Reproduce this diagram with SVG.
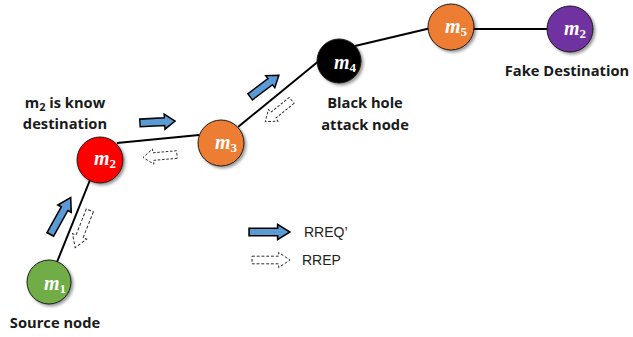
<svg xmlns="http://www.w3.org/2000/svg" width="633" height="337" viewBox="0 0 633 337">
<style>
  .lbl { font-family: "Open Sans", "Liberation Sans", sans-serif; font-weight: 700; font-size: 14.7px; fill: #1a1a1a; text-anchor: middle; }
  .nl { font-family: "Liberation Serif", "DejaVu Serif", serif; font-weight: 700; font-style: italic; font-size: 20px; fill: #ffffff; }
  .nl tspan.s { font-size: 13px; font-style: normal; }
  .node { stroke: #1a1a1a; stroke-width: 1; filter: url(#sh); }
  .edge { stroke: #000; stroke-width: 2; fill: none; }
  .req { fill: #5B9BD5; stroke: #000; stroke-width: 1.6; stroke-linejoin: miter; }
  .rep { fill: #fff; stroke: #222; stroke-width: 1; stroke-dasharray: 3 2; }
  .leg { font-family: "Liberation Sans", Arial, sans-serif; font-size: 14px; fill: #222; }
</style>
<defs>
  <filter id="sh" x="-30%" y="-30%" width="170%" height="170%">
    <feGaussianBlur in="SourceAlpha" stdDeviation="1.5"/>
    <feOffset dx="1.5" dy="2" result="o"/>
    <feComponentTransfer><feFuncA type="linear" slope="0.4"/></feComponentTransfer>
    <feMerge><feMergeNode/><feMergeNode in="SourceGraphic"/></feMerge>
  </filter>
  <path id="arr" d="M-20,-4 L8,-4 L8,-8 L20,0 L8,8 L8,4 L-20,4 Z"/>
</defs>

<g id="connectors">
  <line class="edge" x1="57" y1="262" x2="90" y2="180"/>
  <line class="edge" x1="117" y1="143" x2="199" y2="135"/>
  <line class="edge" x1="238" y1="127" x2="320" y2="60"/>
  <line class="edge" x1="355" y1="46" x2="431" y2="28"/>
  <line class="edge" x1="473" y1="29" x2="548" y2="29"/>
</g>

<g id="messages">
  <use href="#arr" class="req" transform="translate(60.5,216) rotate(-61) scale(1.05,0.95)"/>
  <use href="#arr" class="rep" transform="translate(82.5,229) rotate(111.5) scale(1.0,0.95)"/>
  <use href="#arr" class="req" transform="translate(157.5,122) rotate(-3) scale(0.88,0.95)"/>
  <use href="#arr" class="rep" transform="translate(160,156) rotate(175) scale(0.85,0.95)"/>
  <use href="#arr" class="req" transform="translate(264.5,86) rotate(-37) scale(0.9,0.95)"/>
  <use href="#arr" class="rep" transform="translate(278.5,111) rotate(141) scale(0.85,0.95)"/>
</g>

<g id="m1">
  <circle class="node" cx="49" cy="282" r="22" fill="#70AD47"/>
  <text class="nl" x="44" y="290">m<tspan class="s" dy="3">1</tspan></text>
  <text class="lbl" x="55" y="328">Source node</text>
</g>
<g id="m2">
  <circle class="node" cx="100" cy="160" r="23" fill="#FF0000"/>
  <text class="nl" x="94" y="165">m<tspan class="s" dy="3">2</tspan></text>
  <text class="lbl" x="65" y="108">m<tspan font-size="11" dy="3">2</tspan><tspan dy="-3"> is know</tspan></text>
  <text class="lbl" x="65" y="129">destination</text>
</g>
<g id="m3">
  <circle class="node" cx="221" cy="143" r="23" fill="#ED7D31"/>
  <text class="nl" x="215" y="149">m<tspan class="s" dy="3">3</tspan></text>
</g>
<g id="m4">
  <circle class="node" cx="339" cy="61" r="22" fill="#000000"/>
  <text class="nl" x="334" y="69">m<tspan class="s" dy="3">4</tspan></text>
  <text class="lbl" x="365" y="108">Black hole</text>
  <text class="lbl" x="365" y="130">attack node</text>
</g>
<g id="m5">
  <circle class="node" cx="451" cy="27" r="23" fill="#ED7D31"/>
  <text class="nl" x="445" y="33">m<tspan class="s" dy="3">5</tspan></text>
</g>
<g id="m2fake">
  <circle class="node" cx="570" cy="29" r="23" fill="#7030A0"/>
  <text class="nl" x="564" y="35">m<tspan class="s" dy="3">2</tspan></text>
  <text class="lbl" x="567" y="76">Fake Destination</text>
</g>

<g id="legend">
  <use href="#arr" class="req" transform="translate(269.5,232) scale(1.02,0.95)"/>
  <text class="leg" x="304" y="237">RREQ’</text>
  <use href="#arr" class="rep" transform="translate(271,260) scale(0.95,0.95)"/>
  <text class="leg" x="302" y="265">RREP</text>
</g>
</svg>
